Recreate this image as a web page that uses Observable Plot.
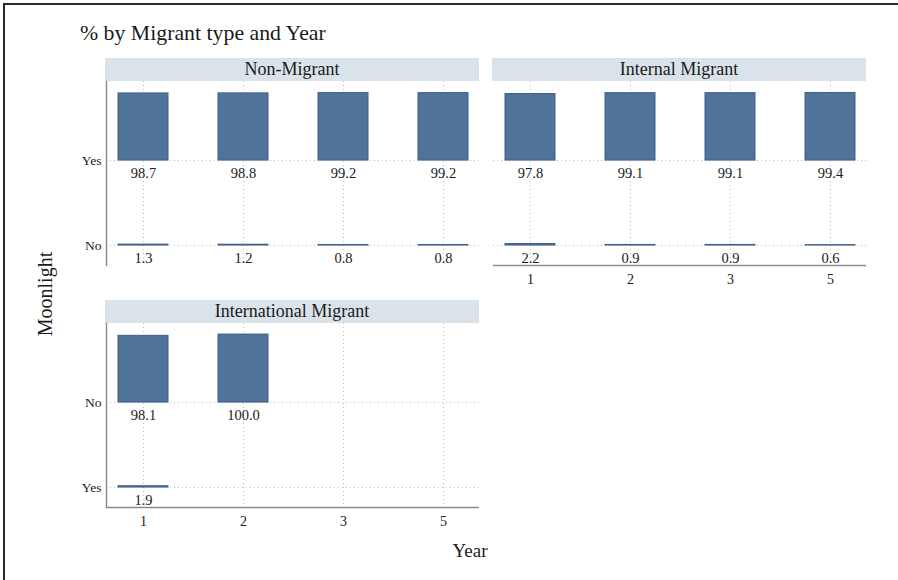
<!DOCTYPE html>
<html>
<head>
<meta charset="utf-8">
<script src="https://cdn.jsdelivr.net/npm/d3@7"></script>
<script src="https://cdn.jsdelivr.net/npm/@observablehq/plot@0.6"></script>
<style>
  html, body { margin: 0; padding: 0; background: #fff; }
  #chart { position: relative; width: 898px; height: 580px; background: #fff;
           font-family: "Liberation Serif", "DejaVu Serif", serif; color: #1a1a1a; overflow: hidden; }
  #chart .edge-top { position: absolute; left: 3px; top: 3px; width: 895px; height: 2px; background: #2a2a2a; }
  #chart .edge-left { position: absolute; left: 3px; top: 3px; width: 2px; height: 577px; background: #2a2a2a; }
  #chart .title { position: absolute; left: 80px; top: 23px; font-size: 21.8px; line-height: 1; white-space: nowrap; }
  #chart .strip { position: absolute; height: 23px; background: #d9e3e9; font-size: 18px; line-height: 23px;
                  text-align: center; white-space: nowrap; }
  #chart .panel { position: absolute; }
  #chart .ytitle { position: absolute; left: 45px; top: 294px; font-size: 20px; line-height: 1; white-space: nowrap;
                   transform: translate(-50%, -50%) rotate(-90deg); }
  #chart .xtitle { position: absolute; left: 470px; top: 541px; font-size: 19px; line-height: 1; white-space: nowrap;
                   transform: translateX(-50%); }
</style>
</head>
<body>
<div id="chart">
  <div class="edge-top"></div>
  <div class="edge-left"></div>
  <div class="title">% by Migrant type and Year</div>
  <div class="ytitle">Moonlight</div>
  <div class="xtitle">Year</div>
</div>
<script>
// Survey years shown on the x axis
const years = ["1", "2", "3", "5"];

// Percentages per migrant type, by answer and year (null = no observations)
const nonMigrantYes = [98.7, 98.8, 99.2, 99.2];
const nonMigrantNo = [1.3, 1.2, 0.8, 0.8];
const internalYes = [97.8, 99.1, 99.1, 99.4];
const internalNo = [2.2, 0.9, 0.9, 0.6];
const internationalNo = [98.1, 100.0, null, null];
const internationalYes = [1.9, null, null, null];

// Panel titles
const panelTitles = ["Non-Migrant", "Internal Migrant", "International Migrant"];

// Each answer row occupies one unit on y; a 100% bar rises 0.8 of a row
const BAR_UNIT = 0.008;
const Y_DOMAIN = [-0.235, 1.93];
const PLOT_W = 373, PLOT_H = 184, ML = 40, MB = 34;
const barColor = "#4f7399";
const axisColor = "#8c8c8c";
const gridColor = "#bdbdbd";

function panel({rowLabels, bottomVals, topVals, showY, showX}) {
  const data = [];
  years.forEach((yr, i) => {
    if (bottomVals[i] != null) data.push({year: yr, row: 0, pct: bottomVals[i]});
    if (topVals[i] != null) data.push({year: yr, row: 1, pct: topVals[i]});
  });
  const marks = [
    Plot.gridX({stroke: gridColor, strokeOpacity: 1, strokeWidth: 1, strokeDasharray: "1,3"}),
    Plot.gridY([0, 1], {stroke: gridColor, strokeOpacity: 1, strokeWidth: 1, strokeDasharray: "1,3"}),
    Plot.barY(data, {
      x: "year",
      y1: "row",
      y2: d => d.row + d.pct * BAR_UNIT,
      fill: barColor,
      stroke: "#3f6189",
      strokeWidth: 1
    }),
    Plot.text(data, {
      x: "year",
      y: "row",
      dy: 13,
      text: d => d.pct.toFixed(1),
      fontSize: 14.5,
      fill: "#1a1a1a"
    })
  ];
  if (showY) {
    marks.push(Plot.axisY([0, 1], {tickFormat: d => rowLabels[d], tickSize: 0, tickPadding: 5, fontSize: 13.5, label: null}));
    marks.push(Plot.frame({anchor: "left", stroke: axisColor, strokeWidth: 1.5}));
  }
  if (showX) {
    marks.push(Plot.axisX({tickSize: 0, tickPadding: 9, fontSize: 14, label: null}));
    marks.push(Plot.ruleY([Y_DOMAIN[0]], {stroke: axisColor, strokeWidth: 1.5}));
  }
  return Plot.plot({
    width: PLOT_W + ML,
    height: PLOT_H + MB,
    marginLeft: ML, marginRight: 0, marginTop: 0, marginBottom: MB,
    style: {fontFamily: "'Liberation Serif', 'DejaVu Serif', serif", color: "#1a1a1a", background: "transparent", overflow: "visible"},
    x: {type: "band", domain: years, paddingInner: 0.5, paddingOuter: 0.11, axis: showX ? undefined : null},
    y: {domain: Y_DOMAIN, axis: showY ? undefined : null},
    marks
  });
}

const layout = [
  {title: panelTitles[0], left: 106, top: 81, rowLabels: ["No", "Yes"], bottomVals: nonMigrantNo, topVals: nonMigrantYes, showY: true, showX: false},
  {title: panelTitles[1], left: 493, top: 81, rowLabels: ["No", "Yes"], bottomVals: internalNo, topVals: internalYes, showY: false, showX: true},
  {title: panelTitles[2], left: 106, top: 323, rowLabels: ["Yes", "No"], bottomVals: internationalYes, topVals: internationalNo, showY: true, showX: true}
];

const chart = document.getElementById("chart");
for (const p of layout) {
  const strip = document.createElement("div");
  strip.className = "strip";
  strip.style.left = (p.left - 1) + "px";
  strip.style.top = (p.top - 23) + "px";
  strip.style.width = (PLOT_W + 1) + "px";
  strip.textContent = p.title;
  chart.appendChild(strip);

  const wrap = document.createElement("div");
  wrap.className = "panel";
  wrap.style.left = (p.left - ML) + "px";
  wrap.style.top = p.top + "px";
  wrap.appendChild(panel(p));
  chart.appendChild(wrap);
}
</script>
</body>
</html>
